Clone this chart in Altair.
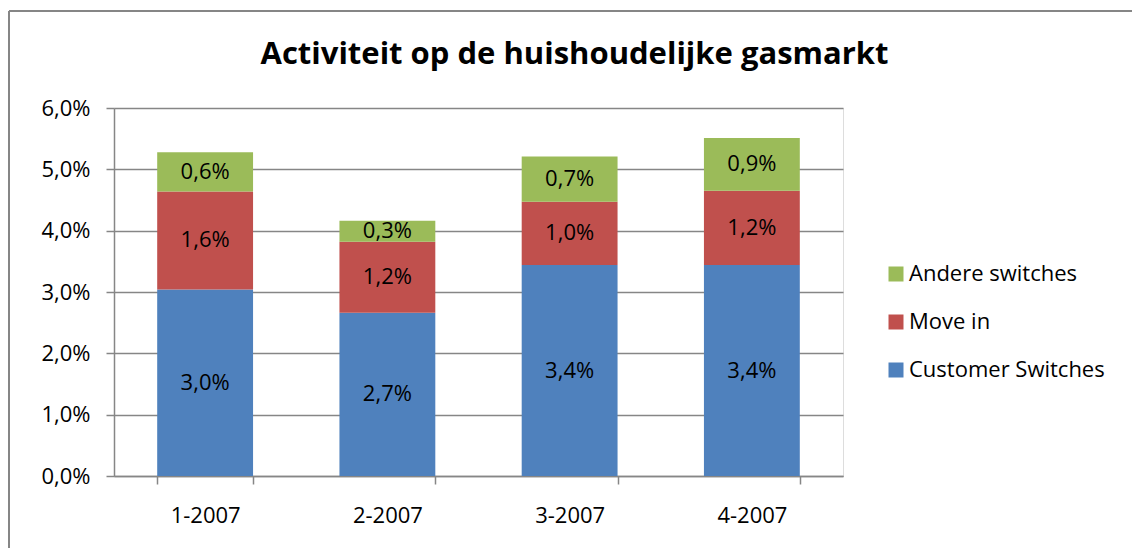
import altair as alt
import pandas as pd

# ---- data ----
quarters = ["1-2007", "2-2007", "3-2007", "4-2007"]
series = ["Customer Switches", "Move in", "Andere switches"]
customer_switches = [3.04, 2.66, 3.44, 3.44]   # percent
move_in = [1.60, 1.16, 1.03, 1.21]             # percent
andere_switches = [0.64, 0.34, 0.74, 0.86]     # percent
colors = {"Customer Switches": "#4F81BD", "Move in": "#C0504D", "Andere switches": "#9BBB59"}
y_ticks = [0.0, 0.01, 0.02, 0.03, 0.04, 0.05, 0.06]
title_text = "Activiteit op de huishoudelijke gasmarkt"

rows = []
for i, q in enumerate(quarters):
    for k, (s, vals) in enumerate(zip(series, [customer_switches, move_in, andere_switches])):
        rows.append({
            "quarter": q,
            "series": s,
            "value": vals[i] / 100.0,
            "ord": k,
            "label": f"{vals[i]:.1f}%".replace(".", ","),
        })
df = pd.DataFrame(rows)

FONT = "Open Sans"
FS = 22
GRAY = "#868686"
legend_order = ["Andere switches", "Move in", "Customer Switches"]

base = alt.Chart(df).transform_stack(
    stack="value",
    groupby=["quarter"],
    as_=["y0", "y1"],
    sort=[alt.SortField("ord", order="ascending")],
).transform_calculate(ymid="(datum.y0 + datum.y1) / 2")

x_enc = alt.X(
    "quarter:N",
    sort=quarters,
    scale=alt.Scale(paddingInner=0.474, paddingOuter=0.237),
    axis=alt.Axis(
        title=None,
        labelAngle=0,
        tickBand="extent",
        tickSize=8,
        tickColor=GRAY,
        tickWidth=1.5,
        domainColor=GRAY,
        domainWidth=1.5,
        labelPadding=21,
        labelFont=FONT,
        labelFontSize=FS,
        labelColor="#000000",
        grid=False,
    ),
)

bars = base.mark_bar().encode(
    x=x_enc,
    y=alt.Y(
        "y0:Q",
        scale=alt.Scale(domain=[0, 0.06], nice=False),
        axis=alt.Axis(
            title=None,
            values=y_ticks,
            labelExpr="replace(format(datum.value, '.1%'), '.', ',')",
            grid=True,
            gridColor=GRAY,
            gridWidth=1.5,
            domainColor=GRAY,
            domainWidth=1.5,
            tickColor=GRAY,
            tickWidth=1.5,
            tickSize=8,
            labelPadding=16,
            labelFont=FONT,
            labelFontSize=FS,
            labelColor="#000000",
        ),
    ),
    y2="y1:Q",
    color=alt.Color(
        "series:N",
        scale=alt.Scale(domain=legend_order, range=[colors[s] for s in legend_order]),
        legend=alt.Legend(
            title=None,
            orient="none",
            legendX=771,
            legendY=155,
            symbolType="square",
            symbolSize=225,
            symbolStrokeWidth=0,
            symbolOpacity=1,
            labelFont=FONT,
            labelFontSize=FS,
            labelColor="#000000",
            labelOffset=2,
            labelLimit=400,
            rowPadding=26,
        ),
    ),
    order=alt.Order("ord:Q"),
)

labels = base.mark_text(font=FONT, fontSize=FS, color="#000000", baseline="middle").encode(
    x=alt.X("quarter:N", sort=quarters),
    y=alt.Y("ymid:Q"),
    text="label:N",
)

# chart-area frame (Excel chart border): only its top and left sides fall inside the picture
frame_src = alt.Chart(pd.DataFrame({"f": [0]}))
frame_top = frame_src.mark_rule(color=GRAY, strokeWidth=2).encode(
    x=alt.value(-105), x2=alt.value(1040), y=alt.value(-97)
)
frame_left = frame_src.mark_rule(color=GRAY, strokeWidth=2).encode(
    x=alt.value(-105), y=alt.value(-97), y2=alt.value(460)
)

chart = alt.layer(frame_top, frame_left, bars, labels).properties(
    width=729,
    height=368,
    autosize=alt.AutoSizeParams(type="none"),
    padding={"left": 106, "top": 100, "right": 289, "bottom": 72},
    title=alt.TitleParams(
        text=title_text,
        font=FONT,
        fontSize=31,
        fontWeight="bold",
        color="#000000",
        anchor="middle",
        frame="group",
        dx=96,
        baseline="alphabetic",
        offset=-85,
    ),
).configure_view(stroke=None).configure(background="white")

chart.save("out.html", embed_options={"renderer": "svg", "actions": False})
